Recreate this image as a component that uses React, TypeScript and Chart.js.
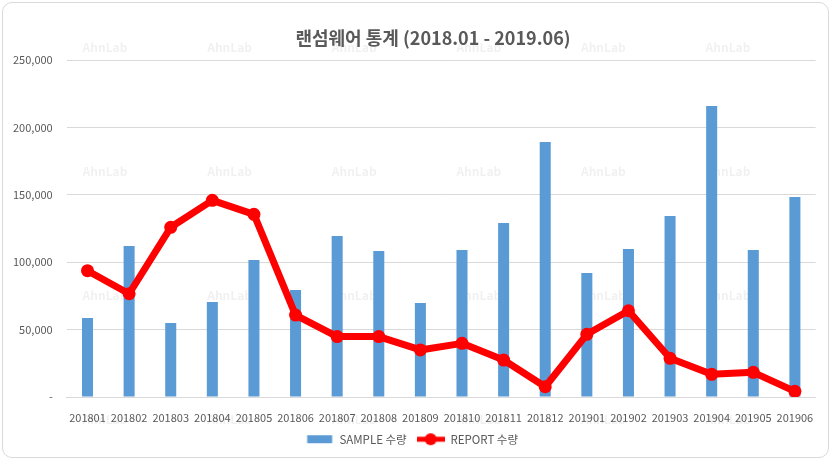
import React, { useEffect, useRef } from "react";
import { Chart, registerables } from "chart.js";

Chart.register(...registerables);

// monthly counts
const months = [
  "201801", "201802", "201803", "201804", "201805", "201806",
  "201807", "201808", "201809", "201810", "201811", "201812",
  "201901", "201902", "201903", "201904", "201905", "201906",
];
const sampleCounts = [
  58600, 112000, 54900, 70500, 101600, 79400,
  119400, 108300, 69700, 109000, 129000, 189200,
  92000, 109800, 134300, 215900, 109000, 148400,
];
const reportCounts = [
  93700, 76600, 125900, 145900, 135500, 60800,
  44800, 44800, 34900, 39800, 27400, 7600,
  46500, 64000, 28700, 16800, 18300, 4200,
];
const seriesNames = ["SAMPLE 수량", "REPORT 수량"];
const chartTitle = "랜섬웨어 통계 (2018.01 - 2019.06)";
const yMax = 250000;
const yStep = 50000;

const FONT = "'Noto Sans CJK KR', 'Noto Sans', sans-serif";
const TEXT = "#595959";
const GRID = "#d9d9d9";
const BLUE = "#5b9bd5";
const RED = "#ff0000";

// little canvases used as legend symbols (box for bars, line + dot for the line)
function swatch(kind: "bar" | "line") {
  const c = document.createElement("canvas");
  c.width = 28;
  c.height = 14;
  const ctx = c.getContext("2d")!;
  if (kind === "bar") {
    ctx.fillStyle = BLUE;
    ctx.fillRect(1.5, 3, 25, 8);
  } else {
    ctx.strokeStyle = RED;
    ctx.lineWidth = 5;
    ctx.beginPath();
    ctx.moveTo(0, 7);
    ctx.lineTo(28, 7);
    ctx.stroke();
    ctx.fillStyle = RED;
    ctx.beginPath();
    ctx.arc(14, 7, 6, 0, Math.PI * 2);
    ctx.fill();
  }
  return c;
}

const watermark = {
  id: "watermark",
  beforeDraw(chart: Chart) {
    const ctx = chart.ctx;
    ctx.save();
    ctx.font = `bold 12px ${FONT}`;
    ctx.fillStyle = "rgba(0,0,0,0.06)";
    ctx.textAlign = "center";
    ctx.textBaseline = "middle";
    for (let r = 0; r < 4; r++) {
      for (let c = 0; c < 6; c++) {
        ctx.fillText("AhnLab", 105 + c * 124.6, 47 + r * 124);
      }
    }
    ctx.restore();
  },
};

const titleText = {
  id: "titleText",
  afterDraw(chart: Chart) {
    const ctx = chart.ctx;
    ctx.save();
    ctx.font = `bold 18px ${FONT}`;
    ctx.fillStyle = TEXT;
    ctx.textAlign = "center";
    ctx.textBaseline = "middle";
    ctx.fillText(chartTitle, 433, 38);
    ctx.restore();
  },
};

export default function App() {
  const canvasRef = useRef<HTMLCanvasElement | null>(null);

  useEffect(() => {
    document.body.style.margin = "0";
    if (!canvasRef.current) return;

    const barSwatch = swatch("bar");
    const lineSwatch = swatch("line");

    const chart = new Chart(canvasRef.current, {
      type: "bar",
      data: {
        labels: months,
        datasets: [
          {
            type: "bar",
            label: seriesNames[0],
            data: sampleCounts,
            backgroundColor: BLUE,
            categoryPercentage: 1,
            barPercentage: 0.265,
            order: 1,
          },
          {
            type: "line",
            label: seriesNames[1],
            data: reportCounts,
            borderColor: RED,
            backgroundColor: RED,
            borderWidth: 7,
            tension: 0,
            pointRadius: 6.5,
            pointBackgroundColor: RED,
            pointBorderColor: RED,
            pointBorderWidth: 0,
            borderJoinStyle: "round",
            order: 0,
          },
        ],
      },
      options: {
        responsive: false,
        animation: false,
        layout: { padding: { left: 8, right: 17.3, top: 60, bottom: 8 } },
        plugins: {
          title: { display: false },
          tooltip: { enabled: false },
          legend: {
            position: "bottom",
            labels: {
              usePointStyle: true,
              pointStyleWidth: 28,
              padding: 10,
              color: TEXT,
              font: { family: FONT, size: 11.5 },
              generateLabels: (c: Chart) =>
                Chart.defaults.plugins.legend.labels
                  .generateLabels(c)
                  .sort((a: any, b: any) => a.datasetIndex - b.datasetIndex)
                  .map((item: any) => ({
                    ...item,
                    pointStyle: item.datasetIndex === 0 ? barSwatch : lineSwatch,
                  })),
            },
          },
        },
        scales: {
          x: {
            grid: { display: false },
            border: { color: GRID },
            ticks: {
              color: TEXT,
              padding: 6,
              maxRotation: 0,
              autoSkip: false,
              font: { family: FONT, size: 11 },
            },
            afterFit: (scale: any) => {
              scale.height = 26.5;
            },
          },
          y: {
            min: 0,
            max: yMax,
            grid: { color: GRID, drawTicks: false },
            border: { display: false },
            ticks: {
              stepSize: yStep,
              color: TEXT,
              padding: 14,
              font: { family: FONT, size: 11 },
              callback: (v: any) =>
                Number(v) === 0 ? "-" : Number(v).toLocaleString("en-US"),
            },
            afterFit: (scale: any) => {
              scale.width = 58.7;
            },
          },
        },
      },
      plugins: [watermark, titleText],
    });

    return () => {
      chart.destroy();
    };
  }, []);

  return (
    <div style={{ position: "relative", width: 833, height: 463, background: "#fff" }}>
      <canvas ref={canvasRef} width={833} height={463} />
      <div
        style={{
          position: "absolute",
          left: 2,
          top: 2,
          width: 825,
          height: 454,
          border: `1px solid ${GRID}`,
          borderRadius: 10,
          pointerEvents: "none",
        }}
      />
    </div>
  );
}
